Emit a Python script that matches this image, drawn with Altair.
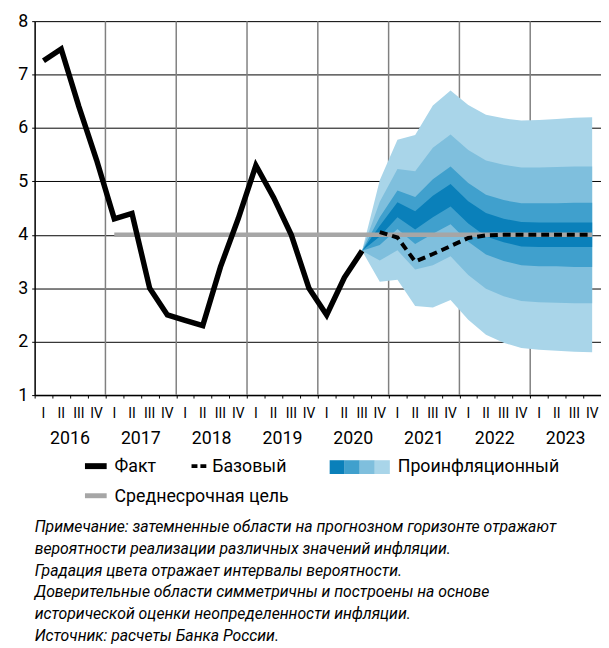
import altair as alt
import pandas as pd

# ---------------- data ----------------
q_labels = ["I", "II", "III", "IV"] * 8
years = ["2016", "2017", "2018", "2019", "2020", "2021", "2022", "2023"]

# Fact, 2016 Q1 .. 2020 Q3 (quarter index 0..18)
fact = [7.26, 7.48, 6.4, 5.4, 4.3, 4.4, 3.0, 2.5, 2.4, 2.3, 3.4, 4.3,
        5.3, 4.7, 4.0, 3.0, 2.5, 3.2, 3.7]

# Base forecast, 2020 Q4 .. 2023 Q4 (quarter index 19..31)
base = [4.05, 3.95, 3.5, 3.64, 3.79, 3.94, 3.99, 4.0, 4.0, 4.0, 4.0, 4.0, 4.0]

# Medium-term target, 2017 Q1 .. 2023 Q4 (quarter index 4..31)
target_value = 4.0

# Fan boundaries, 2020 Q3 .. 2023 Q4 (quarter index 18..31), from bottom (b1) to top (b8)
b1 = [3.7, 3.12, 3.16, 2.67, 2.64, 2.78, 2.41, 2.13, 1.98, 1.88, 1.85, 1.83, 1.81, 1.80]
b2 = [3.7, 3.52, 3.71, 3.35, 3.43, 3.60, 3.25, 2.99, 2.85, 2.76, 2.74, 2.73, 2.72, 2.72]
b3 = [3.7, 3.81, 4.11, 3.83, 4.02, 4.20, 3.87, 3.63, 3.51, 3.43, 3.41, 3.41, 3.40, 3.40]
b4 = [3.7, 3.97, 4.33, 4.10, 4.33, 4.53, 4.21, 3.97, 3.86, 3.78, 3.77, 3.77, 3.77, 3.77]
b5 = [3.7, 4.17, 4.61, 4.44, 4.73, 4.95, 4.63, 4.41, 4.30, 4.24, 4.23, 4.23, 4.23, 4.23]
b6 = [3.7, 4.33, 4.83, 4.71, 5.04, 5.28, 4.97, 4.75, 4.65, 4.59, 4.59, 4.59, 4.60, 4.60]
b7 = [3.7, 4.62, 5.23, 5.19, 5.63, 5.88, 5.59, 5.39, 5.31, 5.26, 5.26, 5.27, 5.28, 5.28]
b8 = [3.7, 5.02, 5.78, 5.87, 6.42, 6.70, 6.43, 6.25, 6.18, 6.14, 6.15, 6.17, 6.19, 6.20]

fan_colors = ["#A9D5E9", "#7FBFDD", "#40A0CD", "#0A80BA"]

legend_fact = "Факт"
legend_base = "Базовый"
legend_fan = "Проинфляционный"
legend_target = "Среднесрочная цель"

note = ("Примечание: затемненные области на прогнозном горизонте отражают\n"
        "вероятности реализации различных значений инфляции.\n"
        "Градация цвета отражает интервалы вероятности.\n"
        "Доверительные области симметричны и построены на основе\n"
        "исторической оценки неопределенности инфляции.\n"
        "Источник: расчеты Банка России.")

FONT = "Roboto"

# ---------------- tables ----------------
fact_df = pd.DataFrame({"x": [i + 0.5 for i in range(len(fact))], "v": fact})
base_df = pd.DataFrame({"x": [19 + i + 0.5 for i in range(len(base))], "v": base})
target_df = pd.DataFrame({"x": [4.5, 31.5], "v": [target_value, target_value]})
fan_df = pd.DataFrame({"x": [18 + i + 0.5 for i in range(len(b1))],
                       "b1": b1, "b2": b2, "b3": b3, "b4": b4,
                       "b5": b5, "b6": b6, "b7": b7, "b8": b8})
years_df = pd.DataFrame({"b": [4 * k for k in range(1, 8)]})
qlab_df = pd.DataFrame({"x": [i + 0.5 for i in range(32)], "t": q_labels})
ylab_df = pd.DataFrame({"x": [4 * k + 2 for k in range(8)], "t": years})
one = pd.DataFrame({"k": [0]})

W, H = 574, 379

xs = alt.Scale(domain=[0, 32], nice=False, zero=False)
ys = alt.Scale(domain=[1, 8], nice=False, zero=False)

x_axis = alt.Axis(values=list(range(33)), labels=False, ticks=True, tickSize=3,
                  tickColor="black", domainColor="black", domainWidth=1.5,
                  grid=False, title=None)
y_axis = alt.Axis(values=[1, 2, 3, 4, 5, 6, 7, 8], grid=True, gridColor="black",
                  gridWidth=1, gridOpacity=1, domainColor="black", domainWidth=1.5,
                  tickColor="black", tickSize=3, labelFontSize=18, labelFont=FONT,
                  labelColor="black", labelPadding=4, title=None)

def X(f):
    return alt.X(f, scale=xs, axis=x_axis)

def Y(f):
    return alt.Y(f, scale=ys, axis=y_axis)

# year separators
vlines = alt.Chart(years_df).mark_rule(color="#808080", strokeWidth=1.5).encode(
    x=X("b:Q"), y=alt.value(0), y2=alt.value(H))

def band(lo, hi, color):
    return alt.Chart(fan_df).mark_area(color=color, opacity=1).encode(
        x=X("x:Q"), y=Y(f"{lo}:Q"), y2=f"{hi}:Q")

fan = [band("b1", "b8", fan_colors[0]), band("b2", "b7", fan_colors[1]),
       band("b3", "b6", fan_colors[2]), band("b4", "b5", fan_colors[3])]

target = alt.Chart(target_df).mark_line(color="#A6A6A6", strokeWidth=4.5).encode(
    x=X("x:Q"), y=Y("v:Q"))

base_line = alt.Chart(base_df).mark_line(color="black", strokeWidth=4,
                                         strokeDash=[8, 5]).encode(
    x=X("x:Q"), y=Y("v:Q"))

fact_line = alt.Chart(fact_df).mark_line(color="black", strokeWidth=5.5).encode(
    x=X("x:Q"), y=Y("v:Q"))

qlabels = alt.Chart(qlab_df).mark_text(font=FONT, fontSize=14, color="black",
                                       baseline="middle").encode(
    x=X("x:Q"), y=alt.value(398), text="t:N")

ylabels = alt.Chart(ylab_df).mark_text(font=FONT, fontSize=18, color="black",
                                       baseline="middle").encode(
    x=X("x:Q"), y=alt.value(424), text="t:N")

# ---------------- legend ----------------
def seg(x1, x2, y, color, width, dash=None):
    kw = dict(color=color, strokeWidth=width)
    if dash:
        kw["strokeDash"] = dash
    return alt.Chart(one).mark_rule(**kw).encode(
        x=alt.value(x1), x2=alt.value(x2), y=alt.value(y))

def label(x, y, t):
    return alt.Chart(one).mark_text(font=FONT, fontSize=18, color="black",
                                    align="left", baseline="middle").encode(
        x=alt.value(x), y=alt.value(y), text=alt.value(t))

legend = [
    seg(51, 73, 451, "black", 6), label(81, 452, legend_fact),
    seg(159, 174, 451, "black", 4, [6, 3]), label(180, 452, legend_base),
    label(368, 452, legend_fan),
    seg(51, 73, 481, "#A6A6A6", 5), label(81, 482, legend_target),
]
sq_w = 15.25
for i, c in enumerate(reversed(fan_colors)):
    legend.append(alt.Chart(one).mark_rect(color=c).encode(
        x=alt.value(299 + i * sq_w), x2=alt.value(299 + (i + 1) * sq_w),
        y=alt.value(445), y2=alt.value(459)))

notes = alt.Chart(one).mark_text(font=FONT, fontSize=16, fontStyle="italic",
                                 color="black", align="left", baseline="alphabetic",
                                 lineBreak="\n", lineHeight=22).encode(
    x=alt.value(0), y=alt.value(518), text=alt.value(note))

chart = alt.layer(vlines, *fan, target, base_line, fact_line, qlabels, ylabels,
                  *legend, notes).properties(
    width=W, height=H,
    autosize=alt.AutoSizeParams(type="none"),
    padding={"left": 27, "top": 9, "right": 0, "bottom": 252},
).configure_view(strokeWidth=0).configure(background="white")

chart.save("out.html", embed_options={"renderer": "svg", "actions": False})
